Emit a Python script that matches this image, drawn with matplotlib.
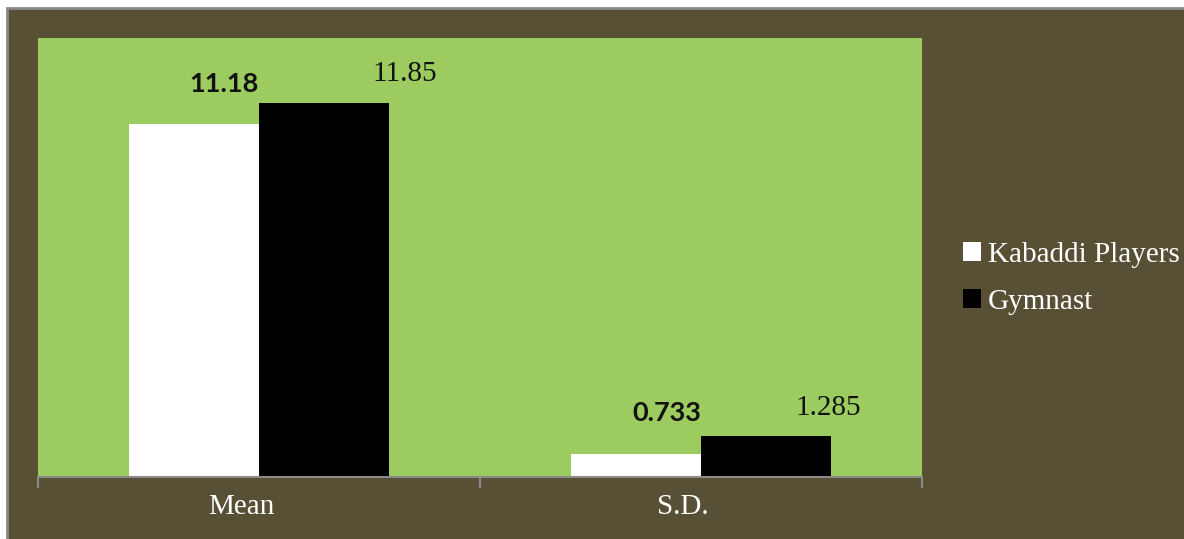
import matplotlib
matplotlib.use("Agg")
import matplotlib.pyplot as plt
import matplotlib.transforms as mtransforms
from matplotlib.patches import Rectangle
import numpy as np

categories = ["Mean", "S.D."]
series_names = ["Kabaddi Players", "Gymnast"]
kabaddi = [11.18, 0.733]
gymnast = [11.85, 1.285]
kabaddi_labels = ["11.18", "0.733"]
gymnast_labels = ["11.85", "1.285"]

OLIVE = "#575034"
GREEN = "#9CCC5F"
# label offsets (points) from each bar's top centre
K_OFF = [(22, 20), (22, 21)]
G_OFF = [(58, 11), (45, 11)]

fig = plt.figure(figsize=(11.84, 5.39), dpi=100)
fig.patch.set_facecolor("white")
# dark outer chart area with grey border
bg = Rectangle((7 / 1184, -0.01), 1.0, 1.01 - 8 / 539, transform=fig.transFigure,
               facecolor=OLIVE, edgecolor="#8a8a8a", linewidth=2.0, zorder=-10)
fig.patches.append(bg)

ax = fig.add_axes([38 / 1184, 62 / 539, 884 / 1184, 439 / 539])
ax.set_zorder(1)
ax.set_facecolor(GREEN)
for s in ["top", "left", "right"]:
    ax.spines[s].set_visible(False)
ax.spines["bottom"].set_color("#8a8a8a")
ax.spines["bottom"].set_linewidth(1.5)

x = np.arange(len(categories))
w = 0.295
b1 = ax.bar(x - w / 2, kabaddi, width=w, color="white", label=series_names[0], zorder=2)
b2 = ax.bar(x + w / 2, gymnast, width=w, color="black", label=series_names[1], zorder=2)

ax.set_xlim(-0.5, len(categories) - 0.5)
ax.set_ylim(0, 13.9)
ax.set_yticks([])

# category ticks at boundaries, labels at centres
ax.set_xticks(np.arange(len(categories) + 1) - 0.5)
ax.set_xticklabels([])
ax.tick_params(axis="x", which="major", length=8, width=1.5, color="#8a8a8a", direction="out")
ax.set_xticks(x, minor=True)
ax.set_xticklabels(categories, minor=True, fontsize=21, family="Liberation Serif", color="white")
ax.tick_params(axis="x", which="minor", length=0, pad=12)
off = mtransforms.ScaledTranslation(-18 / 100, 0, fig.dpi_scale_trans)
for lab in ax.get_xticklabels(minor=True):
    lab.set_transform(lab.get_transform() + off)

# data labels
for i, v in enumerate(kabaddi):
    ax.annotate(kabaddi_labels[i], (x[i] - w / 2, v), xytext=K_OFF[i], textcoords="offset points",
                ha="center", va="bottom", fontsize=19.5, fontweight="bold", family="Lato", color="#111111")
for i, v in enumerate(gymnast):
    ax.annotate(gymnast_labels[i], (x[i] + w / 2, v), xytext=G_OFF[i], textcoords="offset points",
                ha="center", va="bottom", fontsize=21, family="Liberation Serif", color="#111111")

leg = fig.legend(handles=[b1, b2], labels=series_names, loc="upper left",
                 bbox_to_anchor=(963 / 1184, 1 - 242 / 539), frameon=False,
                 prop={"family": "Liberation Serif", "size": 21}, labelcolor="white",
                 handlelength=0.6, handleheight=0.6, handletextpad=0.25, labelspacing=0.72,
                 borderaxespad=0, borderpad=0)

fig.savefig("out.png", dpi=100, facecolor=fig.get_facecolor())
